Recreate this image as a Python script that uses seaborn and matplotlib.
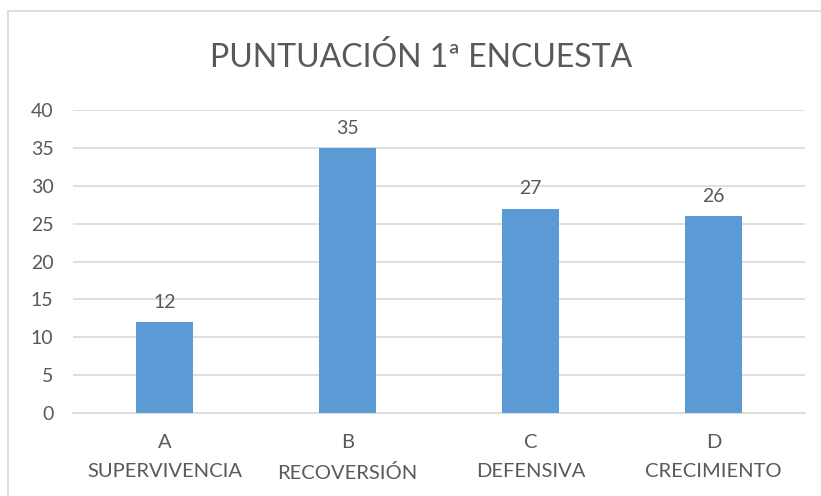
import matplotlib
matplotlib.use("Agg")
import matplotlib.pyplot as plt
import pandas as pd
import seaborn as sns
from matplotlib.patches import Rectangle

letters = ["A", "B", "C", "D"]
names = ["SUPERVIVENCIA", "RECOVERSIÓN", "DEFENSIVA", "CRECIMIENTO"]
scores = [12, 35, 27, 26]
yticks = [0, 5, 10, 15, 20, 25, 30, 35, 40]

df = pd.DataFrame({"cat": [f"{l}\n{n}" for l, n in zip(letters, names)], "score": scores})

sns.set_style("white")
plt.rcParams["font.family"] = ["Lato", "DejaVu Sans"]
txt = "#595959"

fig = plt.figure(figsize=(8.21, 4.96), dpi=100)
ax = fig.add_axes([0.0889, 0.1673, 0.8916, 0.6107])

sns.barplot(data=df, x="cat", y="score", color="#5B9BD5", width=0.31,
            saturation=1, linewidth=0, ax=ax, zorder=3)

for i, v in enumerate(scores):
    ax.text(i, v + 1.5, str(v), ha="center", va="bottom", fontsize=14, color=txt)

ax.set_ylim(0, 40)
ax.set_xlim(-0.5, 3.5)
ax.set_yticks(yticks)
ax.yaxis.grid(True, color="#D9D9D9", linewidth=1.2, zorder=0)
ax.set_xlabel("")
ax.set_ylabel("")
for s in ["top", "right", "left"]:
    ax.spines[s].set_visible(False)
ax.spines["bottom"].set_color("#D9D9D9")
ax.spines["bottom"].set_linewidth(1.2)
ax.tick_params(axis="y", length=0, labelsize=14, labelcolor=txt, pad=14)
ax.tick_params(axis="x", length=0, labelsize=14.5, labelcolor=txt, pad=15)
for lab in ax.get_xticklabels():
    lab.set_linespacing(1.9)

fig.text(0.513, 0.885, "PUNTUACIÓN 1ª ENCUESTA", ha="center", va="center",
         fontsize=23, color=txt)

fig.patches.append(Rectangle((8 / 821, -0.02), 1.02, 1 - 11 / 496 + 0.02,
                             transform=fig.transFigure, fill=False,
                             edgecolor="#D9D9D9", linewidth=1.2))

fig.savefig("out.png", dpi=100)
